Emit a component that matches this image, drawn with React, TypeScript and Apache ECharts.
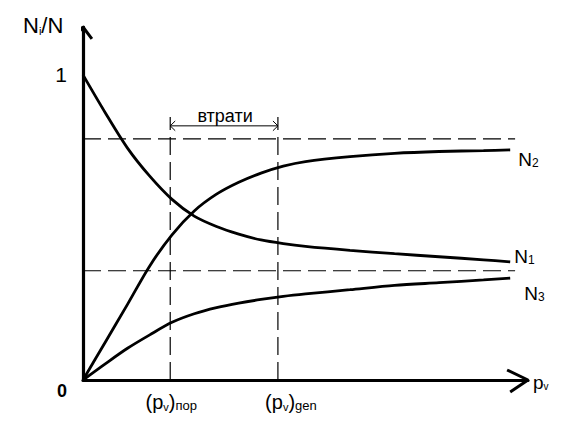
import React, { useEffect, useRef } from 'react';
import * as echarts from 'echarts';

// Axis ranges (arbitrary units of p_v on x, share N_i/N on y)
const xMax = 100;
const yMax = 1.157;

// Characteristic points
const pThreshold = 19.6; // (p_v)пор
const pGen = 43.8; // (p_v)gen
const levelHigh = 0.79;
const levelLow = 0.358;
const lossY = 0.833;
const dashedTop = 0.862;
const dashedRight = 97.1;

// Curves
const pv = [0, 5, 10, 15, 20, 25, 30, 35, 40, 45, 50, 60, 70, 80, 90, 96];
const n1Values = [1.0, 0.876, 0.76, 0.668, 0.592, 0.537, 0.503, 0.478, 0.459, 0.447, 0.438, 0.425, 0.414, 0.404, 0.394, 0.387];
const n2Values = [0, 0.124, 0.248, 0.374, 0.476, 0.554, 0.609, 0.648, 0.678, 0.701, 0.716, 0.732, 0.743, 0.749, 0.752, 0.754];
const n3Values = [0, 0.053, 0.104, 0.148, 0.189, 0.217, 0.237, 0.252, 0.264, 0.274, 0.282, 0.296, 0.31, 0.319, 0.328, 0.334];

const FONT = 'Liberation Sans, Arial, sans-serif';

export default function App() {
  const ref = useRef<HTMLDivElement>(null);
  useEffect(() => {
    if (!ref.current) return;
    const chart = echarts.init(ref.current, undefined, { renderer: 'svg' });
    const pairs = (vals: number[]) => vals.map((v, i) => [pv[i], v] as [number, number]);
    const n1 = pairs(n1Values), n2 = pairs(n2Values), n3 = pairs(n3Values);
    const curve = (name: string, data: [number, number][]) => ({
      type: 'line', name, data, smooth: 0.3, symbol: 'none',
      lineStyle: { color: '#000', width: 2.8 }, z: 5, silent: true,
    });
    const dashed = (data: [number, number][]) => ({
      type: 'line', data, symbol: 'none', silent: true,
      lineStyle: { color: '#000', width: 1.2, type: [18, 7] }, z: 3,
    });
    const thin = (data: [number, number][], width = 1) => ({
      type: 'line', data, symbol: 'none', silent: true, clip: false,
      lineStyle: { color: '#000', width }, z: 4,
    });
    const ahx = 1.12, ahy = 0.016;
    chart.setOption({
      animation: false,
      grid: { left: 83, right: 34, top: 27, bottom: 49 },
      xAxis: {
        type: 'value', min: 0, max: xMax,
        axisLine: { show: true, onZero: false, lineStyle: { color: '#000', width: 3.2 } },
        axisTick: { show: false }, axisLabel: { show: false }, splitLine: { show: false },
      },
      yAxis: {
        type: 'value', min: 0, max: yMax, interval: 1,
        axisLine: { show: true, onZero: false, lineStyle: { color: '#000', width: 3.2 } },
        axisTick: { show: false }, splitLine: { show: false },
        axisLabel: {
          formatter: (v: number) => (v === 1 ? '1' : ''), showMaxLabel: false,
          color: '#000', fontSize: 21, fontFamily: FONT, margin: 16,
        },
      },
      series: [
        curve('N1', n1), curve('N2', n2), curve('N3', n3),
        dashed([[0, levelHigh], [dashedRight, levelHigh]]),
        dashed([[0, levelLow], [dashedRight, levelLow]]),
        dashed([[pThreshold, 0], [pThreshold, dashedTop]]),
        dashed([[pGen, 0], [pGen, dashedTop]]),
        thin([[pThreshold, lossY], [pGen, lossY]]),
        thin([[pThreshold + ahx, lossY + ahy], [pThreshold, lossY], [pThreshold + ahx, lossY - ahy]]),
        thin([[pGen - ahx, lossY + ahy], [pGen, lossY], [pGen - ahx, lossY - ahy]]),
        // axis arrowheads
        thin([[95.3, 0.0328], [xMax, 0], [96.0, -0.039]], 3),
        thin([[-2.25, 1.118], [0, yMax], [2.0, 1.118]], 3),
      ],
    });
    const px = (p: [number, number]) => chart.convertToPixel({ gridIndex: 0 }, p) as number[];
    const o = px([0, 0]);
    const t1 = px([pThreshold, 0]);
    const t2 = px([pGen, 0]);
    const loss = px([(pThreshold + pGen) / 2, lossY]);
    const e1 = px(n1[n1.length - 1]);
    const e2 = px(n2[n2.length - 1]);
    const e3 = px(n3[n3.length - 1]);
    const xEnd = px([xMax, 0]);
    const sub = (big: number, small: number) => ({
      a: { fontSize: big, fontFamily: FONT, color: '#000', verticalAlign: 'bottom', lineHeight: big },
      b: { fontSize: small, fontFamily: FONT, color: '#000', verticalAlign: 'bottom', lineHeight: small },
      c: { fontSize: small + 2, fontFamily: FONT, color: '#000', verticalAlign: 'bottom', lineHeight: small + 2 },
    });
    const txt = (x: number, y: number, text: string, rich: any, align = 'left') => ({
      type: 'text', x, y, silent: true,
      style: { text, rich, align, verticalAlign: 'middle', fill: '#000' },
    });
    chart.setOption({
      graphic: [
        txt(23, 25, '{a|N}{b|i}{a|/N}', sub(22, 11)),
        {
          type: 'text', x: o[0] - 16, y: o[1] + 11, silent: true,
          style: { text: '0', fontSize: 18, fontWeight: 'bold', fontFamily: FONT, fill: '#000', align: 'right', verticalAlign: 'middle' },
        },
        {
          type: 'text', x: loss[0] + 1, y: loss[1] - 10, silent: true,
          style: { text: 'втрати', fontSize: 18, fontFamily: FONT, fill: '#000', align: 'center', verticalAlign: 'middle' },
        },
        txt(t1[0] + 1, o[1] + 22, '{a|(p}{b|v}{a|)}{c|пор}', sub(20, 11), 'center'),
        txt(t2[0] + 13, o[1] + 22, '{a|(p}{b|v}{a|)}{c|gen}', sub(20, 11), 'center'),
        txt(xEnd[0] + 5, o[1] + 2, '{a|p}{b|v}', sub(19, 10)),
        txt(e2[0] + 8, e2[1] + 10, '{a|N}{b|2}', sub(19, 12)),
        txt(e1[0] + 4, e1[1] - 5, '{a|N}{b|1}', sub(19, 12)),
        txt(e3[0] + 14, e3[1] + 15, '{a|N}{b|3}', sub(19, 12)),
      ],
    });
    return () => chart.dispose();
  }, []);
  return <div ref={ref} style={{ position: 'fixed', left: 0, top: 0, width: 562, height: 429, background: '#fff' }} />;
}
